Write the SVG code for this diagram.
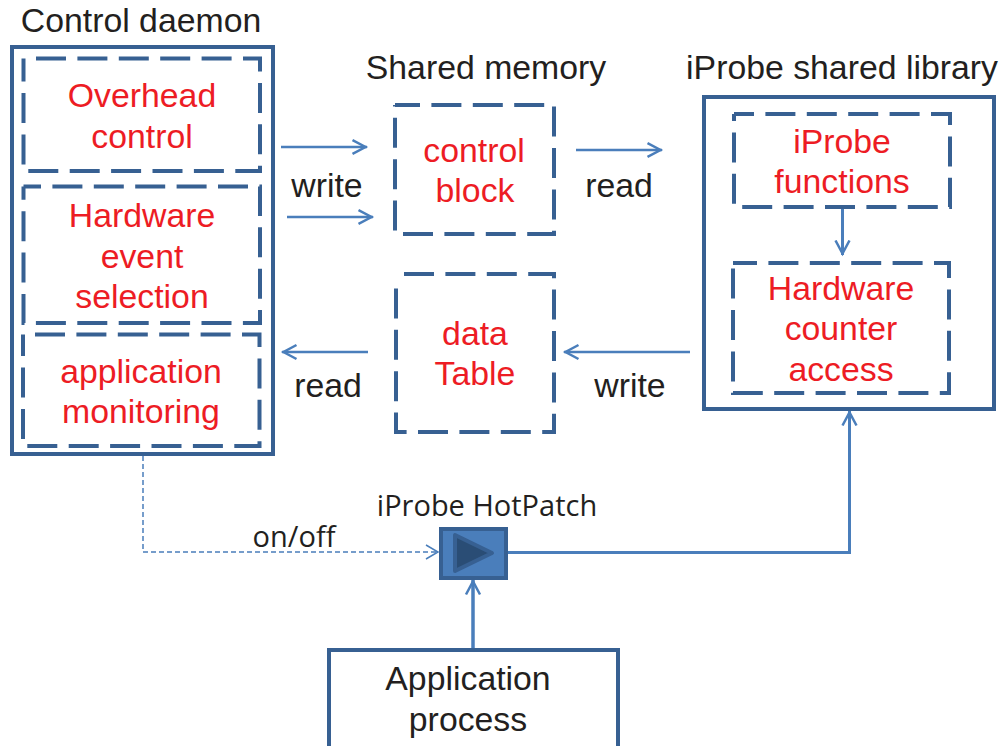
<svg xmlns="http://www.w3.org/2000/svg" width="1002" height="746" viewBox="0 0 1002 746">
<defs>
<marker id="a" markerUnits="userSpaceOnUse" markerWidth="20" markerHeight="19" refX="15.5" refY="9.5" orient="auto"><path d="M1 2.5L14 9.5L1 16.5" fill="none" stroke="#4a7ebb" stroke-width="2.5"/></marker>
<marker id="b" markerUnits="userSpaceOnUse" markerWidth="20" markerHeight="19" refX="14" refY="9.5" orient="auto"><path d="M1 2.5L13 9.5L1 16.5" fill="none" stroke="#4a7ebb" stroke-width="1.5"/></marker>
</defs>
<style>
text{font-family:"Liberation Sans",Arial,sans-serif;font-size:33.8px;text-anchor:middle}
.r{fill:#ed1c24}.k{fill:#231f20}
.s{fill:none;stroke:#376092;stroke-width:4}
.d{fill:none;stroke:#376092;stroke-width:4;stroke-dasharray:30 11.4}
.c{fill:none;stroke:#4a7ebb;stroke-width:2.5;marker-end:url(#a)}
.o{font-family:"Open Sans",sans-serif;font-size:29px}
</style>
<rect width="1002" height="746" fill="#fff"/>
<g id="connectors">
<path class="c" d="M281 147H367"/><path class="c" d="M287 217H373"/><path class="c" d="M576 150H662"/>
<path class="c" style="stroke-width:3" d="M842.500 207V255"/><path class="c" d="M368 352H282"/><path class="c" d="M690 352H564"/>
<path d="M143 456V552H439" fill="none" stroke="#4a7ebb" stroke-width="1.5" stroke-dasharray="5 3" marker-end="url(#b)"/>
<path class="c" style="stroke-width:3" d="M507 552.500H849.500V411"/><path class="c" style="stroke-width:3.500" d="M473 649V580"/>
</g>
<g id="control-daemon"><rect class="s" x="12" y="47" width="261" height="407"/><text class="k" x="141" y="32">Control daemon</text></g>
<g id="overhead"><path class="d" d="M36 58.500H260V171H23.500V58.500"/><text class="r" x="142" y="107">Overhead</text><text class="r" x="142" y="148">control</text></g>
<g id="hardware-event"><path class="d" style="stroke-dashoffset:12.500" d="M23.500 186.500H260V323H23.500V186.500"/><text class="r" x="142" y="227">Hardware</text><text class="r" x="142" y="268">event</text><text class="r" x="142" y="308">selection</text></g>
<g id="app-monitoring"><path class="d" d="M35 334.500H259.500V446H23V334.500"/><text class="r" x="141" y="383">application</text><text class="r" x="141" y="423">monitoring</text></g>
<g id="control-block"><path class="d" style="stroke-dashoffset:5" d="M395 105H554V234H395V105"/><text class="r" x="474" y="162">control</text><text class="r" x="475" y="202">block</text><text class="k" x="486" y="79">Shared memory</text></g>
<g id="data-table"><path class="d" d="M404 274H554V432H396V278"/><text class="r" x="475" y="345">data</text><text class="r" x="475" y="385">Table</text></g>
<g id="iprobe-lib"><rect class="s" x="704" y="97" width="290" height="312"/><text class="k" x="842" y="79">iProbe shared library</text></g>
<g id="iprobe-fn"><path class="d" style="stroke-dashoffset:10" d="M734 114H950V207H734V114"/><text class="r" x="842" y="153">iProbe</text><text class="r" x="842" y="193">functions</text></g>
<g id="hw-counter"><path class="d" style="stroke-dashoffset:6" d="M733 263H949V393H733V263"/><text class="r" x="841" y="300">Hardware</text><text class="r" x="841" y="340">counter</text><text class="r" x="841" y="381">access</text></g>
<g id="hotpatch"><rect x="441" y="529" width="65" height="49" fill="#4a7ebb" stroke="#376092" stroke-width="4"/><path d="M455 535V571L492 553Z" fill="#2a4d75" stroke="#376092" stroke-width="4" stroke-linejoin="round"/><text class="k o" x="487" y="516">iProbe HotPatch</text></g>
<g id="app-process"><path class="s" d="M329 746V650H618V746"/><text class="k" x="468" y="690">Application</text><text class="k" x="468" y="731">process</text></g>
<g id="labels"><text class="k" x="327" y="197">write</text><text class="k" x="619" y="197">read</text><text class="k" x="328" y="397">read</text><text class="k" x="630" y="397">write</text><text class="k o" x="294" y="547">on/off</text></g>
</svg>
